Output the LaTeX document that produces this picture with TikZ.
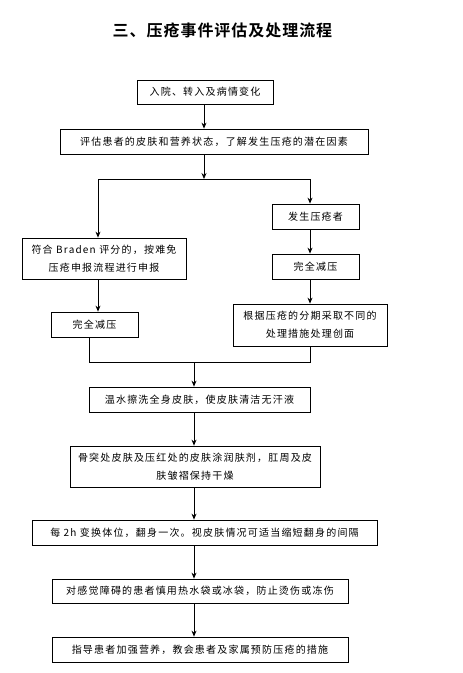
\documentclass[tikz,border=0pt]{standalone}
\usepackage{fontspec}
\usetikzlibrary{arrows.meta}
\newfontfamily\cjk[LetterSpace=12]{Noto Sans CJK SC}
\newfontfamily\cjktitle[LetterSpace=6]{Noto Sans CJK SC Bold}
\begin{document}
\begin{tikzpicture}[x=1pt,y=-1pt,
  box/.style={draw,line width=0.8pt,inner sep=0pt,align=center,
    font=\cjk\fontsize{10}{18}\selectfont},
  arr/.style={line width=0.8pt,-{Stealth[length=6pt,width=5pt]}},
  ln/.style={line width=0.8pt}]
\useasboundingbox (0,0) rectangle (463,673);
\node[font=\cjktitle\fontsize{16}{20}\selectfont] (title) at (222.5,30) {三、压疮事件评估及处理流程};
\node[box,minimum width=136pt,minimum height=24pt] (b1) at (205,92) {入院、转入及病情变化};
\node[box,minimum width=308pt,minimum height=25pt] (b2) at (214,141.5) {评估患者的皮肤和营养状态，了解发生压疮的潜在因素};
\node[box,minimum width=164pt,minimum height=41pt] (l1) at (104,258.5) {符合 Braden 评分的，按难免\\压疮申报流程进行申报};
\node[box,minimum width=87pt,minimum height=25pt] (l2) at (94.5,324.5) {完全减压};
\node[box,minimum width=87pt,minimum height=25pt] (r1) at (315.5,216.5) {发生压疮者};
\node[box,minimum width=87pt,minimum height=25pt] (r2) at (315.5,266.5) {完全减压};
\node[box,minimum width=154pt,minimum height=42pt] (r3) at (310,325) {根据压疮的分期采取不同的\\处理措施处理创面};
\node[box,minimum width=221pt,minimum height=25pt] (b3) at (199.5,399.5) {温水擦洗全身皮肤，使皮肤清洁无汗液};
\node[box,minimum width=250pt,minimum height=41pt] (b4) at (195,466.5) {骨突处皮肤及压红处的皮肤涂润肤剂，肛周及皮\\肤皱褶保持干燥};
\node[box,minimum width=345pt,minimum height=25pt] (b5) at (204.5,532.5) {每 2h 变换体位，翻身一次。视皮肤情况可适当缩短翻身的间隔};
\node[box,minimum width=296pt,minimum height=24pt] (b6) at (200,591) {对感觉障碍的患者慎用热水袋或冰袋，防止烫伤或冻伤};
\node[box,minimum width=296pt,minimum height=25pt] (b7) at (200,649.5) {指导患者加强营养，教会患者及家属预防压疮的措施};
% connectors
\coordinate (split) at (204,179);
\coordinate (splitL) at (98,179);
\coordinate (splitR) at (310,179);
\coordinate (mergeL) at (89,362);
\coordinate (mergeR) at (310,362);
\coordinate (merge) at (194,362);
\draw[arr] (split |- b1.south) -- (split |- b2.north);
\draw[arr] (split |- b2.south) -- (split);
\draw[ln] (splitL) -- (splitR);
\draw[arr] (splitL) -- (splitL |- l1.north);
\draw[arr] (splitR) -- (splitR |- r1.north);
\draw[arr] (r1.south -| splitR) -- (r2.north -| splitR);
\draw[arr] (r2.south -| splitR) -- (r3.north -| splitR);
\draw[arr] (splitL |- l1.south) -- (splitL |- l2.north);
\draw[ln] (mergeL |- l2.south) -- (mergeL) -- (mergeR) -- (mergeR |- r3.south);
\draw[arr] (merge) -- (merge |- b3.north);
\draw[arr] (merge |- b3.south) -- (merge |- b4.north);
\draw[arr] (merge |- b4.south) -- (merge |- b5.north);
\draw[arr] (merge |- b5.south) -- (merge |- b6.north);
\draw[arr] (merge |- b6.south) -- (merge |- b7.north);
\end{tikzpicture}
\end{document}
